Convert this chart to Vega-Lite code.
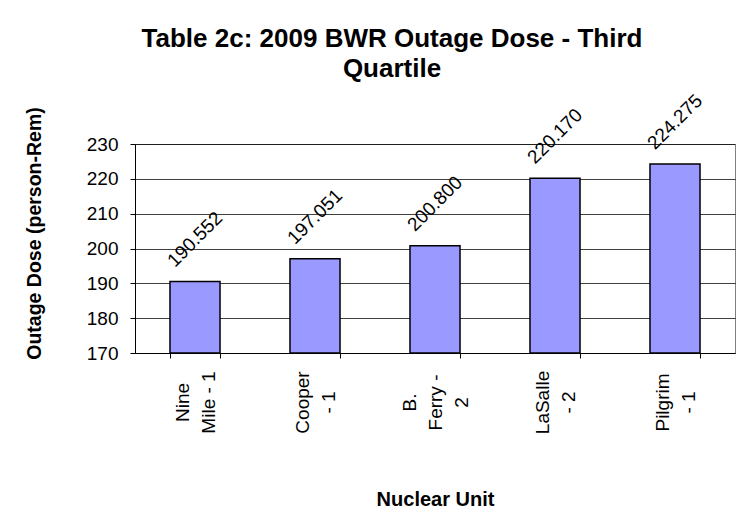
{
  "$schema": "https://vega.github.io/schema/vega-lite/v6.json",
  "width": 600,
  "height": 209,
  "autosize": {"type": "none"},
  "padding": {"left": 135, "top": 144, "right": 16, "bottom": 169},
  "background": "white",
  "title": {
    "text": ["Table 2c: 2009 BWR Outage Dose - Third", "Quartile"],
    "font": "Liberation Sans",
    "fontSize": 26,
    "fontWeight": "bold",
    "color": "black",
    "lineHeight": 30,
    "anchor": "middle",
    "frame": "group",
    "baseline": "alphabetic",
    "dx": -43,
    "offset": -12
  },
  "data": {
    "values": [
      {"unit": "Nine Mile - 1", "dose": 190.552, "label": "190.552"},
      {"unit": "Cooper - 1", "dose": 197.051, "label": "197.051"},
      {"unit": "B. Ferry - 2", "dose": 200.800, "label": "200.800"},
      {"unit": "LaSalle - 2", "dose": 220.170, "label": "220.170"},
      {"unit": "Pilgrim - 1", "dose": 224.275, "label": "224.275"}
    ]
  },
  "encoding": {
    "x": {
      "field": "unit",
      "type": "nominal",
      "sort": null,
      "scale": {"paddingInner": 0.583, "paddingOuter": 0.2915},
      "axis": {
        "title": "Nuclear Unit",
        "titleFont": "Liberation Sans",
        "titleFontSize": 20,
        "titleFontWeight": "bold",
        "titleColor": "black",
        "titleX": 300,
        "titleY": 152,
        "titleAlign": "center",
        "titleBaseline": "alphabetic",
        "labelAngle": 270,
        "labelAlign": "center",
        "labelBaseline": "middle",
        "labelPadding": 44,
        "labelOffset": {"condition": {"test": "datum.value == 'B. Ferry - 2'", "value": -26}, "value": -13},
        "labelOverlap": false,
        "labelBound": false,
        "labelFont": "Liberation Sans",
        "labelFontSize": 19,
        "labelColor": "black",
        "labelLineHeight": 26,
        "labelExpr": "datum.value == 'Nine Mile - 1' ? ['Nine', 'Mile - 1'] : datum.value == 'Cooper - 1' ? ['Cooper', '- 1'] : datum.value == 'B. Ferry - 2' ? ['B.', 'Ferry -', '2'] : datum.value == 'LaSalle - 2' ? ['LaSalle', '- 2'] : datum.value == 'Pilgrim - 1' ? ['Pilgrim', '- 1'] : ''",
        "tickBand": "extent",
        "tickSize": 5,
        "tickColor": "black",
        "domainColor": "black",
        "grid": false
      }
    },
    "y": {
      "field": "dose",
      "type": "quantitative",
      "scale": {"domain": [170, 230], "zero": false, "nice": false},
      "axis": {
        "title": "Outage Dose (person-Rem)",
        "titleFont": "Liberation Sans",
        "titleFontSize": 19.5,
        "titleFontWeight": "bold",
        "titleColor": "black",
        "titleAngle": 270,
        "titleX": -101,
        "titleY": 89,
        "titleAlign": "center",
        "titleBaseline": "middle",
        "values": [170, 180, 190, 200, 210, 220, 230],
        "tickCount": 7,
        "labelOverlap": false,
        "labelFont": "Liberation Sans",
        "labelFontSize": 19,
        "labelColor": "black",
        "labelPadding": 12,
        "tickSize": 5,
        "tickColor": "black",
        "domainColor": "black",
        "gridColor": "black",
        "gridOpacity": 0.75
      }
    }
  },
  "layer": [
    {
      "mark": {"type": "bar", "fill": "#9999FF", "stroke": "black", "strokeWidth": 1.5},
      "encoding": {
        "y2": {"datum": 170}
      }
    },
    {
      "mark": {
        "type": "text",
        "angle": -45,
        "align": "center",
        "baseline": "middle",
        "yOffset": -42,
        "font": "Liberation Sans",
        "fontSize": 19,
        "color": "black"
      },
      "encoding": {
        "text": {"field": "label"}
      }
    }
  ],
  "config": {
    "view": {"stroke": "#808080", "strokeWidth": 1}
  }
}
